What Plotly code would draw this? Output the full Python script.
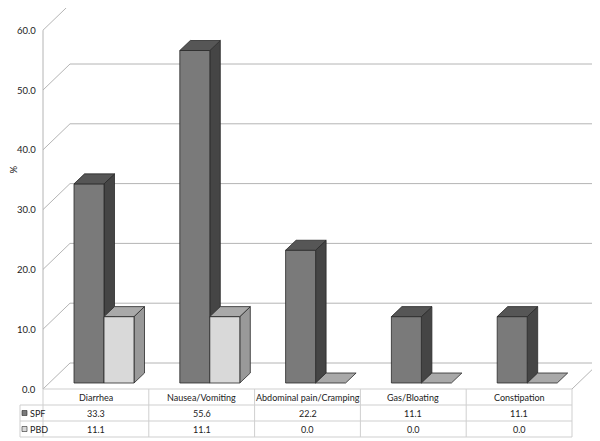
import plotly.graph_objects as go

categories = ["Diarrhea", "Nausea/Vomiting", "Abdominal pain/Cramping", "Gas/Bloating", "Constipation"]
spf = [33.3, 55.6, 22.2, 11.1, 11.1]
pbd = [11.1, 11.1, 0.0, 0.0, 0.0]
y_ticks = [0, 10, 20, 30, 40, 50, 60]
series_names = ["SPF", "PBD"]

# pixel scale of the axes (one category = U px, one percent = V px)
U = 105.8
V = 5.98
px = lambda p: p / U
py = lambda p: p / V

# the page body adds an 8px margin, so the origin sits 8px up/left
ORIGIN_X = 43 - 8
ORIGIN_Y = 389 - 8

FONT = "Lato, Roboto, sans-serif"
FS = 9
GRID = "#b4b4b4"
TABLE = "#cfcfcf"
EDGE = "#2a2a2a"

# face colours: front, top, side
COLORS = {
    "SPF": ("#7a7a7a", "#565656", "#454545"),
    "PBD": ("#d9d9d9", "#a9a9a9", "#999999"),
}

wall_dx, wall_dy = px(27), py(26)
bar_dx, bar_dy = px(10.5), py(10)
bar_base = py(6)
bar_w = px(30)
bar_off = {"SPF": px(31), "PBD": px(61)}
ncat = len(categories)

fig = go.Figure()
shapes = []
annotations = []


def line(x0, y0, x1, y1, color, width=1):
    shapes.append(dict(type="line", x0=x0, y0=y0, x1=x1, y1=y1, xref="x", yref="y",
                       line=dict(color=color, width=width), layer="below"))


# walls and gridlines
for t in y_ticks:
    line(0, t, wall_dx, t + wall_dy, GRID)
    line(wall_dx, t + wall_dy, ncat + wall_dx, t + wall_dy, GRID)
    annotations.append(dict(x=px(-5), y=t, text=f"{t:.1f}", xanchor="right", yanchor="middle",
                            showarrow=False, font=dict(size=9.5, color="#222", family=FONT)))
line(0, 0, 0, y_ticks[-1], GRID)
line(ncat, 0, ncat + wall_dx, wall_dy, GRID)

# axis title, between the 30 and 40 labels
annotations.append(dict(x=px(-30.5), y=py(219), text="%", textangle=-90, showarrow=False,
                        font=dict(size=9.5, color="#222", family=FONT)))


def poly(xs, ys, color):
    fig.add_trace(go.Scatter(x=xs + [xs[0]], y=ys + [ys[0]], mode="lines", fill="toself",
                             fillcolor=color, line=dict(color=EDGE, width=0.8),
                             hoverinfo="skip", showlegend=False))


for i in range(ncat):
    for name, vals in zip(series_names, [spf, pbd]):
        front, top, side = COLORS[name]
        x0 = i + bar_off[name]
        x1 = x0 + bar_w
        y0 = bar_base
        y1 = bar_base + vals[i]
        if vals[i] > 0:
            poly([x1, x1 + bar_dx, x1 + bar_dx, x1], [y0, y0 + bar_dy, y1 + bar_dy, y1], side)
            poly([x0, x1, x1, x0], [y0, y0, y1, y1], front)
        poly([x0, x1, x1 + bar_dx, x0 + bar_dx], [y1, y1, y1 + bar_dy, y1 + bar_dy], top)

# data table
row_h = py(16)
leg_x = px(-23)
line(0, 0, ncat, 0, TABLE)
for r in range(1, 4):
    line(leg_x, -r * row_h, ncat, -r * row_h, TABLE)
line(leg_x, -row_h, leg_x, -3 * row_h, TABLE)
for i in range(ncat + 1):
    line(i, 0, i, -3 * row_h, TABLE)

for i, c in enumerate(categories):
    annotations.append(dict(x=i + 0.5, y=-0.5 * row_h, text=c, showarrow=False,
                            font=dict(size=FS, color="#222", family=FONT)))
    for r, vals in enumerate([spf, pbd]):
        annotations.append(dict(x=i + 0.5, y=-(r + 1.5) * row_h, text=f"{vals[i]:.1f}",
                                showarrow=False, font=dict(size=FS, color="#222", family=FONT)))

for r, name in enumerate(series_names):
    yc = -(r + 1.5) * row_h
    shapes.append(dict(type="rect", x0=px(-21), x1=px(-16), y0=yc - py(2.5), y1=yc + py(2.5),
                       xref="x", yref="y", fillcolor=COLORS[name][0],
                       line=dict(color=EDGE, width=0.6)))
    annotations.append(dict(x=px(-15), y=yc, text=name, xanchor="left", showarrow=False,
                            font=dict(size=FS, color="#222", family=FONT)))

fig.update_layout(
    width=600, height=441,
    margin=dict(l=0, r=0, t=0, b=0),
    paper_bgcolor="white", plot_bgcolor="white",
    shapes=shapes, annotations=annotations, showlegend=False,
    xaxis=dict(range=[px(-ORIGIN_X), px(600 - ORIGIN_X)], visible=False, fixedrange=True),
    yaxis=dict(range=[-py(441 - ORIGIN_Y), py(ORIGIN_Y)], visible=False, fixedrange=True),
)

fig.write_html("out.html")
